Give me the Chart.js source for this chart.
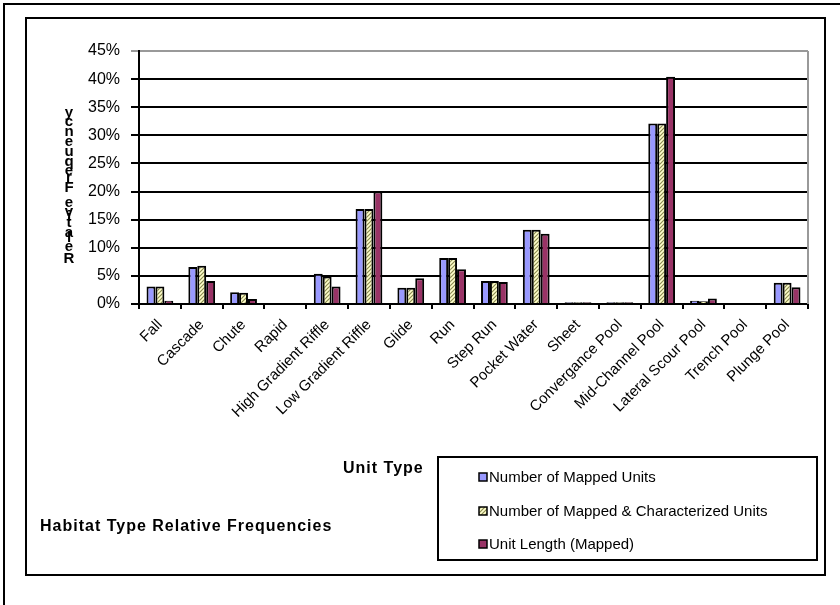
<!DOCTYPE html>
<html>
<head>
<meta charset="utf-8">
<script src="https://cdn.jsdelivr.net/npm/chart.js@4/dist/chart.umd.min.js"></script>
<style>
  body { margin: 0; background: #fff; }
  canvas { display: block; }
</style>
</head>
<body>
<canvas id="myChart" width="840" height="605"></canvas>
<script>
const unitTypes = ["Fall", "Cascade", "Chute", "Rapid", "High Gradient Riffle", "Low Gradient Riffle",
  "Glide", "Run", "Step Run", "Pocket Water", "Sheet", "Convergance Pool", "Mid-Channel Pool",
  "Lateral Scour Pool", "Trench Pool", "Plunge Pool"];
const mappedUnits = [3.1, 6.6, 2.1, 0, 5.4, 16.9, 2.9, 8.2, 4.1, 13.2, 0.3, 0.3, 32.1, 0.6, 0, 3.8];
const characterizedUnits = [3.1, 6.8, 2.0, 0, 4.9, 16.9, 2.9, 8.2, 4.1, 13.2, 0.3, 0.3, 32.1, 0.5, 0, 3.8];
const unitLength = [0.6, 4.1, 0.9, 0, 3.1, 20.0, 4.6, 6.2, 3.9, 12.5, 0.3, 0.3, 40.4, 1.0, 0, 3.0];
const seriesNames = ["Number of Mapped Units", "Number of Mapped & Characterized Units", "Unit Length (Mapped)"];

// hatched fill for the second series
let makeHatch = () => {
  const c = document.createElement("canvas");
  c.width = 4;
  c.height = 4;
  const g = c.getContext("2d");
  g.fillStyle = "#ffffcc";
  g.fillRect(0, 0, 4, 4);
  g.strokeStyle = "#8a8a50";
  g.lineWidth = 1.2;
  g.beginPath();
  g.moveTo(0, 4); g.lineTo(4, 0);
  g.moveTo(-1, 1); g.lineTo(1, -1);
  g.moveTo(3, 5); g.lineTo(5, 3);
  g.stroke();
  return g.createPattern(c, "repeat");
};
const hatch = makeHatch();
const fills = ["#9999ff", hatch, "#993366"];

// frames, titles, legend and the stacked y title
const decorations = {
  id: "decorations",
  beforeDraw(chart) {
    const ctx = chart.ctx;
    ctx.save();
    ctx.fillStyle = "#fff";
    ctx.fillRect(0, 0, 840, 605);
    ctx.strokeStyle = "#000";
    ctx.lineWidth = 2;
    ctx.beginPath();
    ctx.moveTo(4, 605); ctx.lineTo(4, 4); ctx.lineTo(840, 4);
    ctx.stroke();
    ctx.strokeRect(26, 18, 799, 557);
    ctx.restore();
  },
  afterDraw(chart) {
    const ctx = chart.ctx;
    const area = chart.chartArea;
    ctx.save();
    // gray right edge of the plot
    ctx.strokeStyle = "#999";
    ctx.lineWidth = 2;
    ctx.beginPath();
    ctx.moveTo(area.right, area.top);
    ctx.lineTo(area.right, area.bottom);
    ctx.stroke();

    // y title, letters piled upward
    ctx.fillStyle = "#000";
    ctx.font = "bold 15px Arial, 'Liberation Sans'";
    ctx.textAlign = "center";
    ctx.textBaseline = "alphabetic";
    const title = "Relative Frequency";
    let y = 263;
    for (const ch of title) {
      ctx.fillText(ch, 69, y);
      y -= ctx.measureText(ch).width + 1;
    }

    ctx.textAlign = "left";
    ctx.font = "bold 16px Arial, 'Liberation Sans'";
    ctx.letterSpacing = "1px";
    ctx.fillText("Unit Type", 343, 473);
    ctx.fillText("Habitat Type Relative Frequencies", 40, 531);
    ctx.letterSpacing = "0px";

    // legend
    ctx.lineWidth = 2;
    ctx.strokeStyle = "#000";
    ctx.strokeRect(438, 457, 379, 103);
    ctx.font = "15px Arial, 'Liberation Sans'";
    ctx.textBaseline = "middle";
    const rows = [477, 511, 544];
    seriesNames.forEach((name, i) => {
      ctx.fillStyle = fills[i];
      ctx.fillRect(479, rows[i] - 4, 8, 8);
      ctx.lineWidth = 1.5;
      ctx.strokeRect(479, rows[i] - 4, 8, 8);
      ctx.fillStyle = "#000";
      ctx.fillText(name, 489, rows[i] + 1);
    });
    ctx.restore();
  }
};

const data = {
  labels: unitTypes,
  datasets: [mappedUnits, characterizedUnits, unitLength].map((values, i) => ({
    label: seriesNames[i],
    data: values,
    backgroundColor: fills[i],
    borderColor: "#000",
    borderWidth: 2,
    categoryPercentage: 0.64,
    barPercentage: 1.0,
  })),
};

const config = {
  type: "bar",
  data: data,
  options: {
    responsive: false,
    animation: false,
    devicePixelRatio: 1,
    layout: { padding: { left: 0, top: 51, right: 32, bottom: 151 } },
    plugins: {
      legend: { display: false },
      tooltip: { enabled: false },
    },
    scales: {
      x: {
        afterFit: (scale) => { scale.height = 150; },
        border: { color: "#000", width: 2 },
        grid: { offset: true, drawOnChartArea: false, color: "#000", lineWidth: 2, tickLength: 5 },
        ticks: {
          autoSkip: false,
          minRotation: 45,
          maxRotation: 45,
          padding: 7,
          color: "#000",
          font: { family: "Arial, 'Liberation Sans'", size: 15 },
        },
      },
      y: {
        min: 0,
        max: 45,
        afterFit: (scale) => { scale.width = 139; },
        border: { color: "#000", width: 2 },
        grid: {
          color: (c) => (c.tick && c.tick.value === 45 ? "#999" : "#000"),
          lineWidth: 2,
          tickLength: 8,
        },
        ticks: {
          stepSize: 5,
          padding: 11,
          color: "#000",
          font: { family: "Arial, 'Liberation Sans'", size: 16 },
          callback: (v) => v + "%",
        },
      },
    },
  },
  plugins: [decorations],
};

const myChart = new Chart(document.getElementById("myChart"), config);
</script>
</body>
</html>
